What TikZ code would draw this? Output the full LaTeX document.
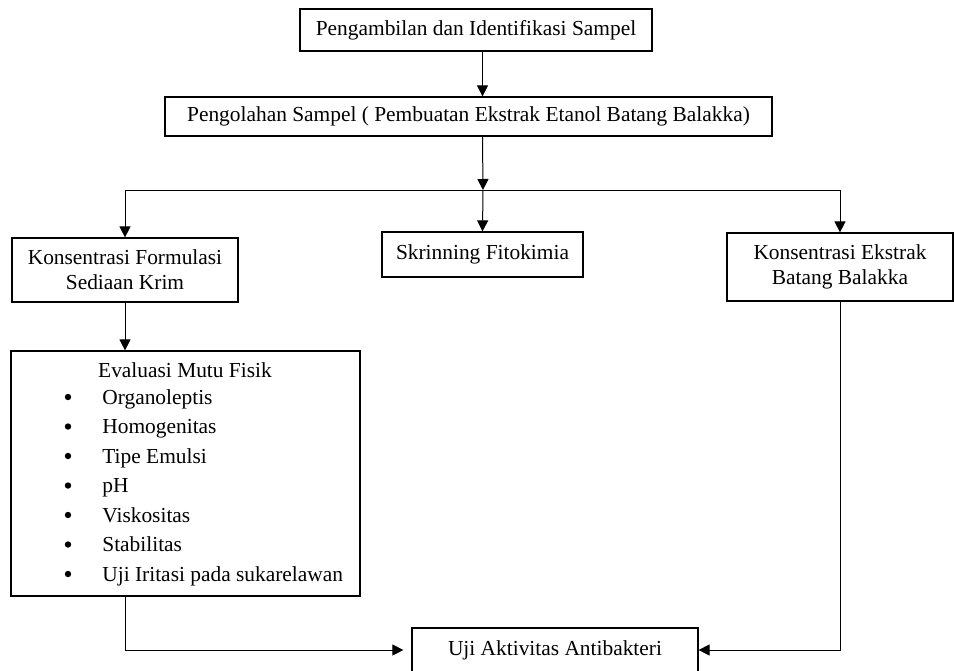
\documentclass[tikz,border=0pt]{standalone}
\usepackage{fontspec}
\setmainfont{Liberation Serif}
\usetikzlibrary{arrows.meta}
\tikzset{
  kotak/.style={draw, line width=0.6pt, inner sep=2pt, align=center},
  panah/.style={-{Triangle[length=5.5pt,width=5.5pt]}, line width=0.5pt},
  titik/.style={circle, fill, inner sep=0pt, minimum size=3.2pt},
}
\begin{document}
\begin{tikzpicture}[x=0.5pt,y=-0.5pt,font=\fontsize{10.7}{12.5}\selectfont]
\useasboundingbox (0,0) rectangle (954,670);
% kotak-kotak
\node[kotak, minimum width=176pt, minimum height=21pt] (ambil) at (476,30) {Pengambilan dan Identifikasi Sampel};
\node[kotak, minimum width=303.5pt, minimum height=19.5pt] (olah) at (468.5,116.5) {Pengolahan Sampel ( Pembuatan Ekstrak Etanol Batang Balakka)};
\node[kotak, minimum width=113pt, minimum height=32pt] (krim) at (125,270) {Konsentrasi Formulasi\\Sediaan Krim};
\node[kotak, minimum width=100.5pt, minimum height=22.5pt] (skrining) at (482.5,254.5) {Skrinning Fitokimia};
\node[kotak, minimum width=113pt, minimum height=34pt] (ekstrak) at (840,267) {Konsentrasi Ekstrak\\Batang Balakka};
\node[kotak, minimum width=174.5pt, minimum height=122.5pt] (evaluasi) at (185.5,473.5) {};
\node[kotak, minimum width=143pt, minimum height=22pt] (uji) at (555,650) {Uji Aktivitas Antibakteri};
% isi evaluasi
\node[anchor=base] (judul) at (185,377) {Evaluasi Mutu Fisik};
\foreach \t [count=\i] in {Organoleptis, Homogenitas, Tipe Emulsi, pH, Viskositas, Stabilitas, Uji Iritasi pada sukarelawan} {
  \node[titik] (titik\i) at (68,{374.5+29.5*\i-7}) {};
  \node[anchor=base west, inner xsep=0pt] (item\i) at (102,{374.5+29.5*\i}) {\t};
}
% panah
\coordinate (cabang) at (483,190);
\draw[panah] (ambil.south -| skrining) -- (olah.north -| skrining);
\draw[panah] (olah.south -| skrining) -- (cabang);
\draw[panah] (cabang) -- (skrining.north);
\draw[panah] (cabang) -| (krim.north);
\draw[panah] (cabang) -| (ekstrak.north);
\draw[panah] (krim.south) -- (krim.south |- evaluasi.north);
\draw[panah, shorten >=4pt] (evaluasi.south -| krim.south) |- (uji.west);
\draw[panah] (ekstrak.south) |- (uji.east);
\end{tikzpicture}
\end{document}
